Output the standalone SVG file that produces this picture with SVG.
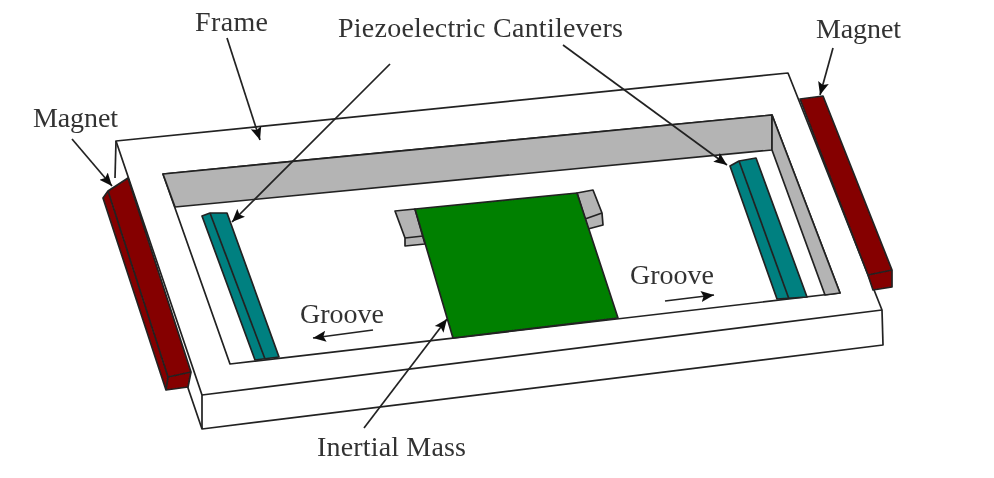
<svg xmlns="http://www.w3.org/2000/svg" width="994" height="478" viewBox="0 0 994 478">
<style>
.l{stroke:#222;stroke-width:1.7;stroke-linejoin:round}
.w{fill:#fff}
.g{fill:#b4b4b4}
.t{fill:#008080}
.m{fill:#850000}
.c{fill:#008000}
.a{fill:none;stroke:#222;stroke-width:1.7;marker-end:url(#ah)}
text{font-family:"Liberation Serif","Times New Roman",serif;font-size:28px;fill:#333}
</style>
<defs>
<marker id="ah" markerUnits="userSpaceOnUse" markerWidth="14" markerHeight="12" refX="13" refY="6" orient="auto"><path d="M0 0.5L13 6L0 11.500L2.500 6Z" fill="#111"/></marker>
<filter id="b" x="-2%" y="-2%" width="104%" height="104%"><feGaussianBlur stdDeviation="0.7"/></filter>
</defs>
<rect width="994" height="478" fill="#fff"/>
<g filter="url(#b)">
<g id="frame">
<path class="l w" d="M116 141L788 73L882 310L883 345L202 429L202 395L116 141Z"/>
<path class="l" fill="none" d="M116 141L115 178M202 395L882 310M187 385L202 429"/>
<path class="l w" d="M163 174L772 115L840 293L230 364Z"/>
<path class="l g" d="M163 174L772 115L772 150L175 207Z"/>
<path class="l g" d="M772 115L840 293L825 295L772 150Z"/>
</g>
<g id="cantilever-left">
<path class="l t" d="M202 216L210 213L227 213L279 357L255 360Z"/>
<path class="l" fill="none" d="M210 213L265 359"/>
</g>
<g id="cantilever-right">
<path class="l t" d="M730 166L739 161L756 158L807 297L777 299Z"/>
<path class="l" fill="none" d="M739 161L789 299"/>
</g>
<g id="magnet-left">
<path class="l m" d="M103 198L108 191L128 178L191 372L188 387L166 390Z"/>
<path class="l" fill="none" d="M108 191L168 377L191 372M168 377L166 390"/>
</g>
<g id="magnet-right">
<path class="l m" d="M800 99L823 96L892 270L892 287L873 290L868 275Z"/>
<path class="l" fill="none" d="M868 275L892 270"/>
</g>
<g id="inertial-mass">
<path class="l g" d="M395 211L415 209L425 244L405 246L405 238Z"/>
<path class="l" fill="none" d="M405 238L423 236"/>
<path class="l g" d="M577 193L593 190L602 213L603 225L588 229L585 219Z"/>
<path class="l" fill="none" d="M585 219L602 213"/>
<path class="l c" d="M415 209L577 193L618 318L453 338Z"/>
</g>
<g id="connectors">
<path class="a" d="M227 38L260 140"/>
<path class="a" d="M390 64L232 222"/>
<path class="a" d="M563 45L727 165"/>
<path class="a" d="M72 139L112 186"/>
<path class="a" d="M833 48L820 95"/>
<path class="a" d="M364 428L447 319"/>
<path class="a" d="M373 330L313 338"/>
<path class="a" d="M665 301L714 295"/>
</g>
<g id="labels">
<text x="195" y="31" textLength="73">Frame</text>
<text x="338" y="37" textLength="285">Piezoelectric Cantilevers</text>
<text x="816" y="38" textLength="85">Magnet</text>
<text x="33" y="127" textLength="85">Magnet</text>
<text x="300" y="323" textLength="84">Groove</text>
<text x="630" y="284" textLength="84">Groove</text>
<text x="317" y="456" textLength="149">Inertial Mass</text>
</g>
</g>
</svg>
